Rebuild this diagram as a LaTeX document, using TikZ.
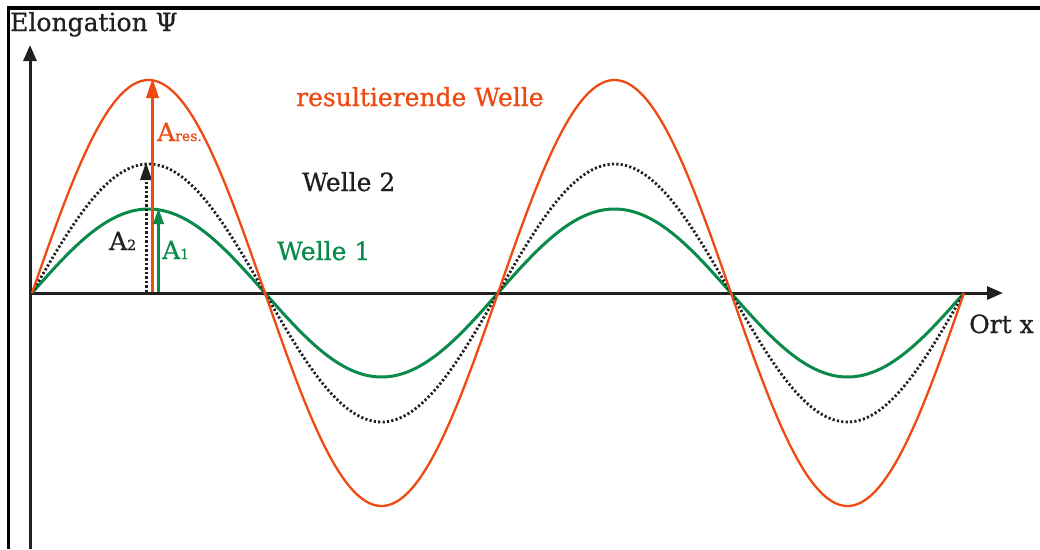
\documentclass[tikz,border=0pt]{standalone}
\usepackage{fontspec}
\setmainfont{DejaVu Serif}
\newfontfamily\lblfont[FakeBold=0.7]{DejaVu Serif}
\usetikzlibrary{arrows.meta}
\definecolor{wred}{HTML}{EE4A12}
\definecolor{wgreen}{HTML}{0A8A4A}
\definecolor{wblack}{HTML}{231F20}
\tikzset{
  axis/.style={line width=3pt, wblack, -{Triangle[length=16pt,width=13pt]}},
  frame/.style={line width=3.2pt, black},
  lbl/.style={anchor=base west, inner sep=0pt, font=\lblfont\fontsize{25}{30}\selectfont},
}
\newcommand{\subtxt}[1]{{\fontsize{14}{16}\selectfont #1}}
\begin{document}
\begin{tikzpicture}[x=1pt,y=-1pt]
\useasboundingbox (0,0) rectangle (1040,549);
% frame
\draw[frame] (7,8) -- (1040,8);
\draw[frame] (8.5,6.4) -- (8.5,549);
% axes
\coordinate (ybot) at (30,549);
\coordinate (ytop) at (30,45);
\coordinate (xl) at (30,293);
\coordinate (xr) at (1003,293);
\draw[axis] (ybot) -- (ytop);
\draw[axis] (xl) -- (xr);
% waves
\draw[wgreen, line width=3pt] plot[domain=32:964, samples=300, smooth] (\x, {293 - 84*sin((\x-32)/233*180)});
\draw[wblack, line width=2.8pt, dash pattern=on 2.2pt off 2.2pt] plot[domain=32:964, samples=300, smooth] (\x, {293 - 129*sin((\x-32)/233*180)});
\draw[wred, line width=2.3pt] plot[domain=32:964, samples=300, smooth] (\x, {293 - 213*sin((\x-32)/233*180)});
% amplitude arrows
\coordinate (a2b) at (146,292);
\coordinate (a2t) at (146,162);
\coordinate (arb) at (152.5,292);
\coordinate (art) at (152.5,78);
\coordinate (a1b) at (158.5,292);
\coordinate (a1t) at (158.5,208);
\draw[wblack, line width=3pt, dash pattern=on 2.5pt off 2pt, -{Triangle[length=18pt,width=11pt]}] (a2b) -- (a2t);
\draw[wred, line width=3.5pt, -{Triangle[length=20pt,width=12pt]}] (arb) -- (art);
\draw[wgreen, line width=3.2pt, -{Triangle[length=16pt,width=10pt]}] (a1b) -- (a1t);
% labels
\node[lbl, wblack] (elong) at (10,31) {Elongation Ψ};
\node[lbl, wblack] (ort) at (969,333) {Ort x};
\node[lbl, wred] (res) at (296,106) {resultierende Welle};
\node[lbl, wblack] (w2) at (302,191) {Welle 2};
\node[lbl, wgreen] (w1) at (277,260) {Welle 1};
\node[lbl, wred] (ares) at (157,141) {A\subtxt{res.}};
\node[lbl, wblack] (atwo) at (109,250) {A\subtxt{2}};
\node[lbl, wgreen] (aone) at (162,259) {A\subtxt{1}};
\end{tikzpicture}
\end{document}
